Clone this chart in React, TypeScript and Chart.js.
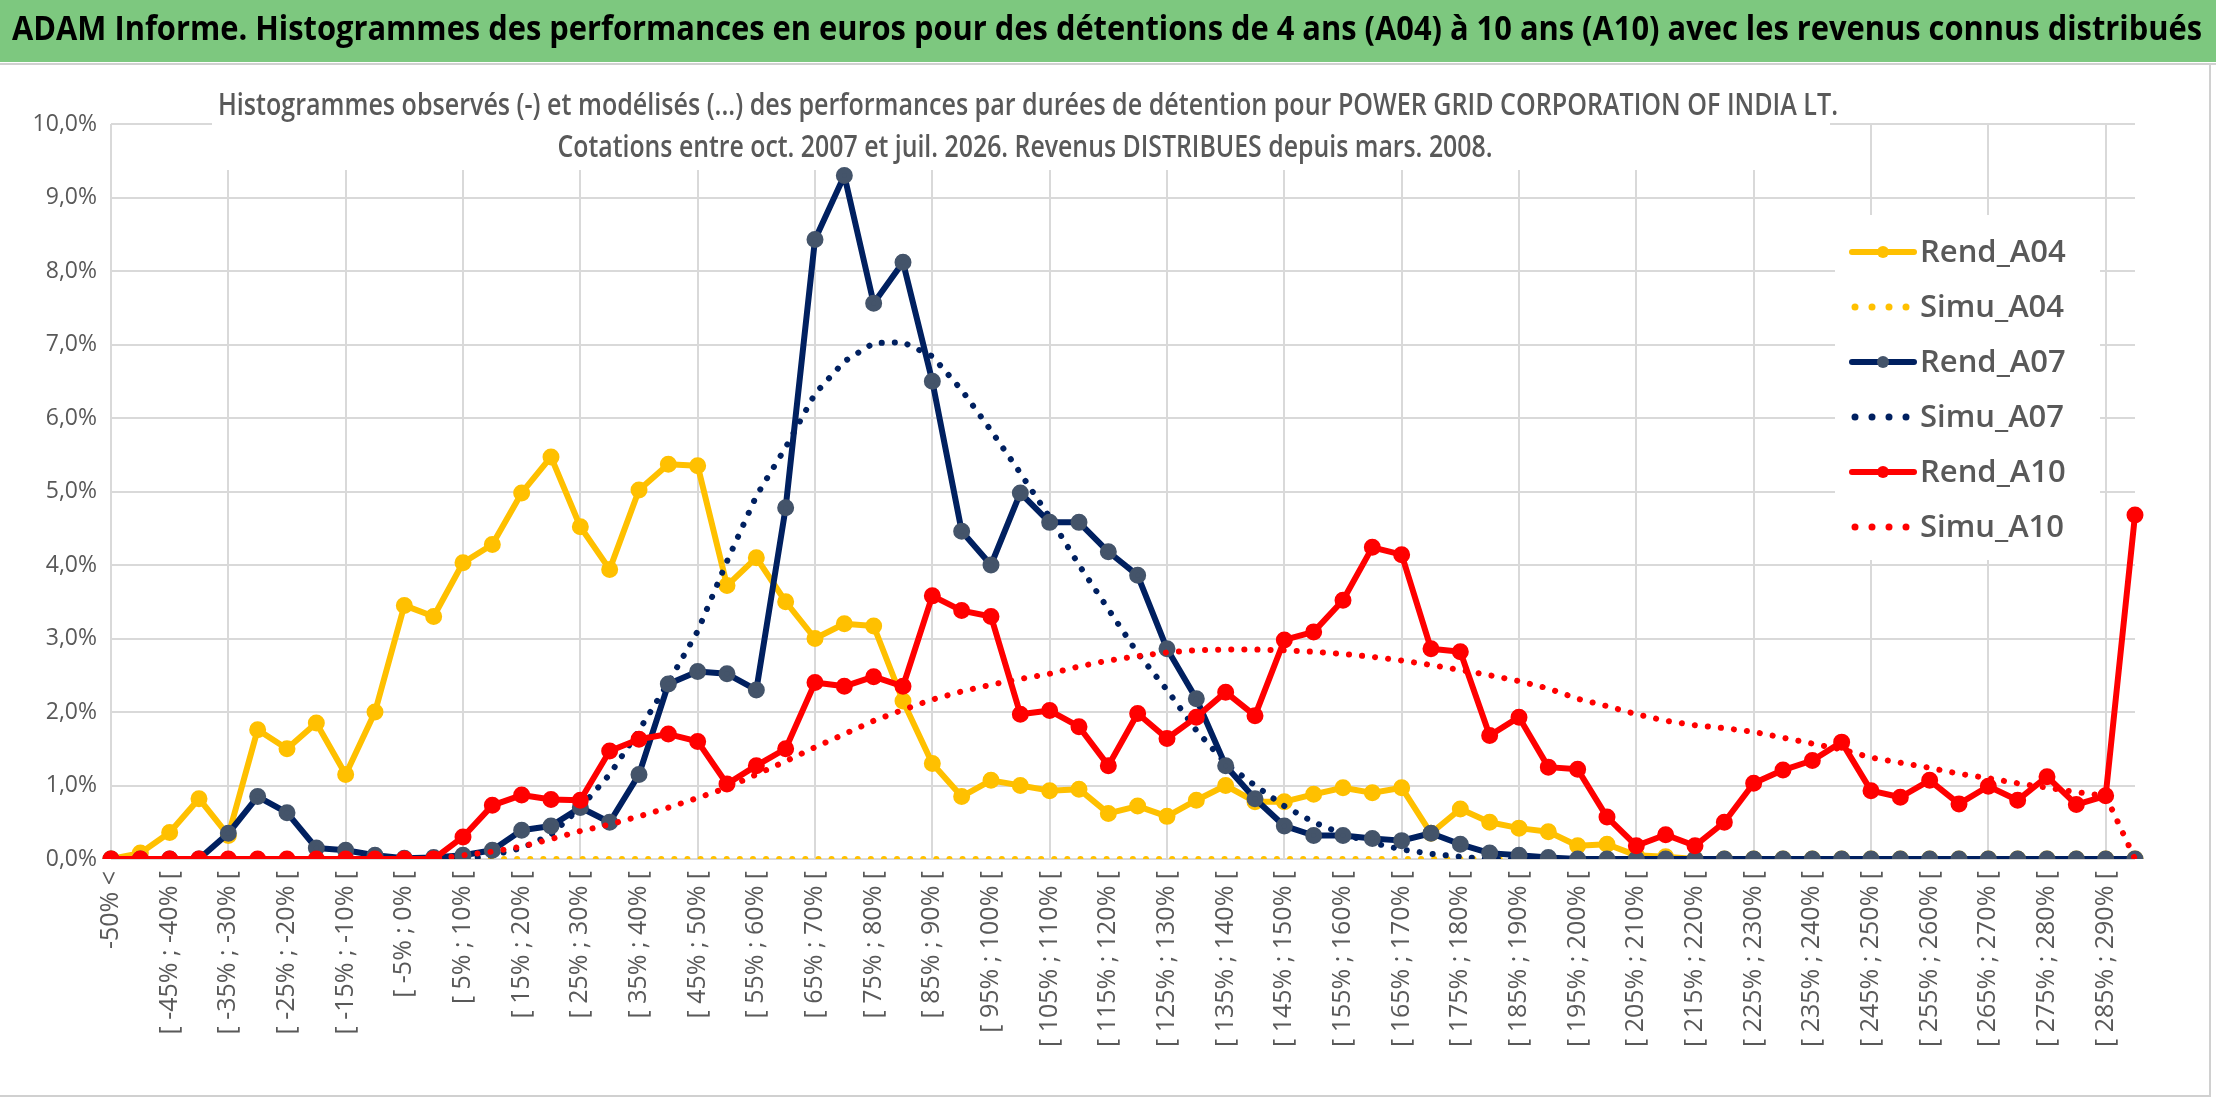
import React, { useEffect, useRef } from "react";
import { Chart, registerables } from "chart.js";
Chart.register(...registerables);

const categories = [
  "-50% <", "[ -50% ; -45% [", "[ -45% ; -40% [", "[ -40% ; -35% [", "[ -35% ; -30% [", "[ -30% ; -25% [",
  "[ -25% ; -20% [", "[ -20% ; -15% [", "[ -15% ; -10% [", "[ -10% ; -5% [", "[ -5% ; 0% [", "[ 0% ; 5% [",
  "[ 5% ; 10% [", "[ 10% ; 15% [", "[ 15% ; 20% [", "[ 20% ; 25% [", "[ 25% ; 30% [", "[ 30% ; 35% [",
  "[ 35% ; 40% [", "[ 40% ; 45% [", "[ 45% ; 50% [", "[ 50% ; 55% [", "[ 55% ; 60% [", "[ 60% ; 65% [",
  "[ 65% ; 70% [", "[ 70% ; 75% [", "[ 75% ; 80% [", "[ 80% ; 85% [", "[ 85% ; 90% [", "[ 90% ; 95% [",
  "[ 95% ; 100% [", "[ 100% ; 105% [", "[ 105% ; 110% [", "[ 110% ; 115% [", "[ 115% ; 120% [", "[ 120% ; 125% [",
  "[ 125% ; 130% [", "[ 130% ; 135% [", "[ 135% ; 140% [", "[ 140% ; 145% [", "[ 145% ; 150% [", "[ 150% ; 155% [",
  "[ 155% ; 160% [", "[ 160% ; 165% [", "[ 165% ; 170% [", "[ 170% ; 175% [", "[ 175% ; 180% [", "[ 180% ; 185% [",
  "[ 185% ; 190% [", "[ 190% ; 195% [", "[ 195% ; 200% [", "[ 200% ; 205% [", "[ 205% ; 210% [", "[ 210% ; 215% [",
  "[ 215% ; 220% [", "[ 220% ; 225% [", "[ 225% ; 230% [", "[ 230% ; 235% [", "[ 235% ; 240% [", "[ 240% ; 245% [",
  "[ 245% ; 250% [", "[ 250% ; 255% [", "[ 255% ; 260% [", "[ 260% ; 265% [", "[ 265% ; 270% [", "[ 270% ; 275% [",
  "[ 275% ; 280% [", "[ 280% ; 285% [", "[ 285% ; 290% [", "290% >",
];

const rendA04 = [
  0, 0.08, 0.36, 0.82, 0.32, 1.76, 1.5, 1.85, 1.15, 2.0, 3.45, 3.3, 4.03, 4.28, 4.98, 5.47, 4.52, 3.94, 5.02, 5.37,
  5.35, 3.72, 4.1, 3.5, 3.0, 3.2, 3.17, 2.15, 1.3, 0.85, 1.07, 1.0, 0.93, 0.95, 0.62, 0.72, 0.58, 0.8, 1.0, 0.78,
  0.78, 0.88, 0.97, 0.9, 0.97, 0.35, 0.68, 0.5, 0.42, 0.37, 0.18, 0.2, 0.05, 0.03, 0, 0, 0, 0, 0, 0,
  0, 0, 0, 0, 0, 0, 0, 0, 0, 0,
];
const simuA04 = [
  0, 0, 0, 0, 0, 0, 0, 0, 0, 0, 0, 0, 0, 0, 0, 0, 0, 0, 0, 0,
  0, 0, 0, 0, 0, 0, 0, 0, 0, 0, 0, 0, 0, 0, 0, 0, 0, 0, 0, 0,
  0, 0, 0, 0, 0, 0, 0, 0, 0, 0, 0, 0, 0, 0, 0, 0, 0, 0, 0, 0,
  0, 0, 0, 0, 0, 0, 0, 0, 0, 0,
];
const rendA07 = [
  0, 0, 0, 0, 0.35, 0.85, 0.63, 0.15, 0.12, 0.05, 0.01, 0.02, 0.05, 0.12, 0.39, 0.45, 0.7, 0.5, 1.15, 2.38,
  2.55, 2.52, 2.3, 4.78, 8.43, 9.3, 7.56, 8.12, 6.5, 4.46, 4.0, 4.98, 4.58, 4.58, 4.18, 3.86, 2.86, 2.18, 1.27, 0.82,
  0.45, 0.32, 0.32, 0.28, 0.25, 0.35, 0.2, 0.08, 0.05, 0.02, 0, 0, 0, 0, 0, 0, 0, 0, 0, 0,
  0, 0, 0, 0, 0, 0, 0, 0, 0, 0,
];
const simuA07 = [
  0, 0, 0, 0, 0, 0, 0, 0, 0, 0, 0, 0, 0, 0.05, 0.15, 0.33, 0.7, 1.15, 1.75, 2.4,
  3.1, 4.05, 4.94, 5.6, 6.33, 6.77, 7.02, 7.03, 6.84, 6.38, 5.83, 5.25, 4.65, 4.0, 3.4, 2.8, 2.3, 1.75, 1.3, 1.0,
  0.72, 0.5, 0.34, 0.22, 0.13, 0.07, 0.03, 0, 0, 0, 0, 0, 0, 0, 0, 0, 0, 0, 0, 0,
  0, 0, 0, 0, 0, 0, 0, 0, 0, 0,
];
const rendA10 = [
  0, 0, 0, 0, 0, 0, 0, 0, 0, 0, 0, 0, 0.3, 0.73, 0.87, 0.81, 0.8, 1.47, 1.63, 1.7,
  1.6, 1.02, 1.27, 1.5, 2.4, 2.35, 2.48, 2.35, 3.58, 3.38, 3.3, 1.97, 2.02, 1.8, 1.27, 1.98, 1.64, 1.93, 2.27, 1.95,
  2.98, 3.09, 3.52, 4.24, 4.14, 2.86, 2.82, 1.68, 1.93, 1.25, 1.22, 0.57, 0.18, 0.33, 0.18, 0.5, 1.03, 1.21, 1.34, 1.59,
  0.93, 0.84, 1.07, 0.75, 0.99, 0.8, 1.12, 0.74, 0.86, 4.68,
];
const simuA10 = [
  0, 0, 0, 0, 0, 0, 0, 0, 0, 0, 0, 0, 0.05, 0.1, 0.17, 0.27, 0.38, 0.47, 0.58, 0.7,
  0.83, 0.97, 1.15, 1.33, 1.52, 1.7, 1.88, 2.03, 2.17, 2.28, 2.37, 2.45, 2.52, 2.62, 2.7, 2.76, 2.81, 2.84, 2.85, 2.85,
  2.84, 2.82, 2.79, 2.75, 2.7, 2.64, 2.57, 2.5, 2.42, 2.32, 2.18, 2.08, 1.97, 1.88, 1.82, 1.78, 1.73, 1.65, 1.57, 1.49,
  1.38, 1.31, 1.24, 1.16, 1.1, 1.03, 0.97, 0.91, 0.86, 0,
];

const TITLE = "ADAM Informe. Histogrammes des performances en euros pour des détentions de 4 ans (A04) à 10 ans (A10) avec les revenus connus distribués";
const SUB1 = "Histogrammes observés (-) et modélisés (...) des performances par durées de détention pour POWER GRID CORPORATION OF INDIA LT.";
const SUB2 = "Cotations entre oct. 2007 et juil. 2026. Revenus DISTRIBUES depuis mars. 2008.";

const YELLOW = "#FFC000";
const NAVY = "#002060";
const NAVYPT = "#44546A";
const RED = "#FF0000";
const W = 2216, H = 1102;

export default function App() {
  const ref = useRef<HTMLCanvasElement>(null);
  useEffect(() => {
    document.body.style.margin = "0";
    const rend = (label: string, data: number[], color: string, pt: string, order: number) => ({
      label, data, borderColor: color, backgroundColor: pt, pointBackgroundColor: pt, pointBorderColor: pt,
      borderWidth: 6, pointRadius: 5.5, pointHoverRadius: 5.5, tension: 0, order, borderJoinStyle: "round" as const,
    });
    const simu = (label: string, data: number[], color: string, order: number) => ({
      label, data, borderColor: color, backgroundColor: color, borderWidth: 6, pointRadius: 0,
      borderDash: [0.1, 13], borderCapStyle: "round" as const, tension: 0, order,
    });
    const deco = {
      id: "deco",
      beforeDraw(c: any) {
        const ctx = c.ctx;
        ctx.save();
        ctx.fillStyle = "#fff";
        ctx.fillRect(0, 0, W, H);
        ctx.fillStyle = "#7DC87F";
        ctx.fillRect(0, 0, W, 62);
        ctx.fillStyle = "#000";
        ctx.font = "bold 34px 'Open Sans'";
        ctx.textBaseline = "middle";
        ctx.textAlign = "left";
        ctx.fillText(TITLE, 12, 30, 2190);
        ctx.strokeStyle = "#d0d0d0";
        ctx.lineWidth = 2;
        ctx.beginPath();
        ctx.moveTo(0, 64); ctx.lineTo(W, 64);
        ctx.moveTo(W - 6, 64); ctx.lineTo(W - 6, H - 6); ctx.lineTo(0, H - 6);
        ctx.stroke();
        ctx.restore();
      },
      beforeDatasetsDraw(c: any) {
        const ctx = c.ctx;
        ctx.save();
        ctx.fillStyle = "#fff";
        ctx.fillRect(212, 84, 1618, 86);
        ctx.fillStyle = "#595959";
        ctx.font = "600 30px 'Open Sans'";
        ctx.textAlign = "center";
        ctx.textBaseline = "middle";
        ctx.fillText(SUB1, 1028, 106, 1620);
        ctx.fillText(SUB2, 1025, 148, 935);
        ctx.fillStyle = "#fff";
        ctx.fillRect(1835, 215, 265, 345);
        const items = [
          ["Rend_A04", YELLOW, YELLOW, false], ["Simu_A04", YELLOW, YELLOW, true],
          ["Rend_A07", NAVY, NAVYPT, false], ["Simu_A07", NAVY, NAVY, true],
          ["Rend_A10", RED, RED, false], ["Simu_A10", RED, RED, true],
        ] as [string, string, string, boolean][];
        items.forEach(([t, col, pt, dotted], k) => {
          const y = 252 + k * 55;
          if (dotted) {
            ctx.fillStyle = col;
            for (let d = 0; d < 4; d++) { ctx.beginPath(); ctx.arc(1855 + d * 17, y, 3.5, 0, Math.PI * 2); ctx.fill(); }
          } else {
            ctx.strokeStyle = col; ctx.lineWidth = 6; ctx.lineCap = "round";
            ctx.beginPath(); ctx.moveTo(1852, y); ctx.lineTo(1914, y); ctx.stroke();
            ctx.fillStyle = pt; ctx.beginPath(); ctx.arc(1883, y, 6, 0, Math.PI * 2); ctx.fill();
          }
          ctx.fillStyle = "#595959";
          ctx.font = "600 31px 'Open Sans'";
          ctx.textAlign = "left";
          ctx.fillText(t, 1920, y + 1, 160);
        });
        ctx.restore();
      },
    };
    const chart = new Chart(ref.current!, {
      type: "line",
      data: {
        labels: categories,
        datasets: [
          rend("Rend_A04", rendA04, YELLOW, YELLOW, 4),
          simu("Simu_A04", simuA04, YELLOW, 5),
          rend("Rend_A07", rendA07, NAVY, NAVYPT, 2),
          simu("Simu_A07", simuA07, NAVY, 3),
          rend("Rend_A10", rendA10, RED, RED, 0),
          simu("Simu_A10", simuA10, RED, 1),
        ] as any,
      },
      options: {
        animation: false,
        responsive: false,
        devicePixelRatio: 1,
        layout: { padding: { left: 0, right: 81, top: 124, bottom: 0 } },
        plugins: { legend: { display: false }, tooltip: { enabled: false }, title: { display: false } },
        scales: {
          x: {
            offset: false,
            afterFit: (s: any) => { s.height = 243; },
            grid: {
              color: (ctx: any) => (ctx.index % 4 === 0 ? "#d9d9d9" : "rgba(0,0,0,0)"),
              lineWidth: 2, drawTicks: false,
            },
            border: { display: false },
            ticks: {
              autoSkip: false, maxRotation: 90, minRotation: 90, padding: 12,
              color: "#595959", font: { family: "'Open Sans'", size: 25 },
              callback: (_v: any, i: number) => (i % 2 === 0 ? categories[i] : ""),
            },
          },
          y: {
            min: 0, max: 10,
            afterFit: (s: any) => { s.width = 111; },
            grid: { color: "#d9d9d9", lineWidth: 2, drawTicks: false },
            border: { display: false },
            ticks: {
              stepSize: 1, padding: 14, color: "#595959", font: { family: "'Open Sans'", size: 23 },
              callback: (v: any) => Number(v).toFixed(1).replace(".", ",") + "%",
            },
          },
        },
      },
      plugins: [deco],
    });
    return () => chart.destroy();
  }, []);
  return (
    <div style={{ width: W, height: H }}>
      <canvas ref={ref} width={W} height={H} style={{ display: "block" }} />
    </div>
  );
}
